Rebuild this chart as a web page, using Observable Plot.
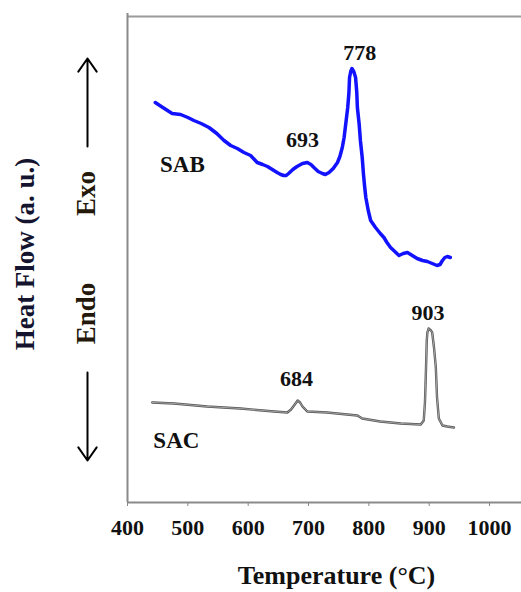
<!DOCTYPE html>
<html><head><meta charset="utf-8">
<script src="https://cdn.jsdelivr.net/npm/d3@7"></script>
<script src="https://cdn.jsdelivr.net/npm/@observablehq/plot@0.6"></script>
<style>html,body{margin:0;padding:0;background:#fff}</style>
</head><body><div id="chart"></div>
<script>
// SAB (blue) DTA trace: temperature (°C) and heat flow (a.u.)
const sabTemp = [446, 456, 474, 488, 500, 510, 522, 535, 548, 560, 571, 582, 593, 604, 615, 624, 632, 640, 648, 654, 659, 663, 667, 674, 681, 690, 698, 704, 709, 716, 723, 728, 734, 741, 748, 752, 756, 759, 761, 763, 765, 767, 768, 770, 772, 775, 778, 780, 781, 784, 786, 789, 791, 793, 795, 799, 803, 811, 819, 825, 830, 836, 843, 850, 857, 864, 872, 880, 889, 897, 905, 913, 918, 922, 926, 930, 935];
const sabFlow = [400, 396, 389, 388, 385, 382, 379, 375, 369, 362, 357, 354, 350, 347, 340, 338, 336, 333, 330, 328, 327, 327, 329, 333, 336, 339, 340, 338, 335, 331, 329, 328, 330, 334, 340, 346, 355, 365, 375, 385, 395, 410, 425, 431, 434, 431, 425, 410, 395, 378, 362, 345, 329, 316, 305, 292, 282, 275, 269, 265, 260, 255, 251, 247, 249, 250, 247, 244, 242, 241, 239, 237, 238, 242, 245, 246, 245];
// SAC (gray) DTA trace
const sacTemp = [441, 477, 532, 587, 643, 665, 671, 676, 682, 686, 690, 698, 731, 764, 781, 789, 819, 853, 886, 891, 893, 894, 895, 896, 897, 899, 901, 903, 905, 908, 911, 913, 916, 922, 930, 941];
const sacFlow = [100, 99, 96, 94, 91, 90, 93, 97, 102, 100, 96, 91, 90, 88, 87, 84, 81, 79, 78, 82, 100, 119, 140, 162, 170, 174, 173, 172, 170, 155, 135, 105, 84, 77, 76, 75];

const xTicks = [400, 500, 600, 700, 800, 900, 1000];

// peak annotations
const peakText = ["693", "778", "684", "903"];
const peakTemp = [690, 785, 680, 898];
const peakFlow = [363, 450, 124, 190];

// series names
const seriesText = ["SAB", "SAC"];
const seriesTemp = [491, 481];
const seriesFlow = [338, 62];

// Exo / Endo
const dirText = ["Exo", "Endo"];
const dirFlow = [309, 189];
const arrowFrom = [356, 130];
const arrowTo = [444, 42];

const sab = sabTemp.map((t, i) => ({t, f: sabFlow[i]}));
const sac = sacTemp.map((t, i) => ({t, f: sacFlow[i]}));
const peaks = peakText.map((s, i) => ({s, t: peakTemp[i], f: peakFlow[i]}));
const series = seriesText.map((s, i) => ({s, t: seriesTemp[i], f: seriesFlow[i]}));
const dirs = dirText.map((s, i) => ({s, f: dirFlow[i]}));
const arrows = arrowFrom.map((a, i) => ({y1: a, y2: arrowTo[i]}));

const chart = Plot.plot({
  width: 521, height: 592,
  marginLeft: 127, marginRight: 0, marginTop: 13, marginBottom: 90,
  x: {domain: [400, 1053]},
  y: {domain: [0, 489], axis: null},
  style: {fontFamily: "'Liberation Serif', 'Times New Roman', serif", fontWeight: "bold", background: "#fff"},
  marks: [
    Plot.ruleY([486], {stroke: "#9a9a9a", strokeWidth: 2}),
    Plot.ruleX([400], {stroke: "#8a8a8a", strokeWidth: 2}),
    Plot.ruleY([0], {stroke: "#8a8a8a", strokeWidth: 2}),
    Plot.axisX({ticks: xTicks, tickSize: 4, tickPadding: 13, fontSize: 22, stroke: "#888", fill: "#111", label: null, tickFormat: d => String(d)}),
    Plot.line(sac, {x: "t", y: "f", stroke: "#555", strokeWidth: 2.4}),
    Plot.line(sac, {x: "t", y: "f", stroke: "#c4c4c4", strokeWidth: 0.7}),
    Plot.line(sab, {x: "t", y: "f", stroke: "#1212ff", strokeWidth: 3.5, strokeLinejoin: "round"}),
    Plot.text(peaks, {x: "t", y: "f", text: "s", fontSize: 22, fill: "#111"}),
    Plot.text(series, {x: "t", y: "f", text: "s", fontSize: 23, fill: "#111"}),
    Plot.text(["Heat Flow (a. u.)"], {frameAnchor: "left", textAnchor: "middle", dx: -102, dy: -4, rotate: -90, fontSize: 27, fill: "#14142e"}),
    Plot.text(dirs, {y: "f", text: "s", frameAnchor: "left", textAnchor: "middle", dx: -41, rotate: -90, fontSize: 27, fill: "#24180a"}),
    Plot.arrow(arrows, {x1: () => 400, x2: () => 400, y1: "y1", y2: "y2", dx: -40, stroke: "#000", strokeWidth: 2, headLength: 12, headAngle: 70}),
    Plot.text(["Temperature (°C)"], {frameAnchor: "bottom", dx: 12, dy: 81, fontSize: 26, fill: "#111"})
  ]
});
document.getElementById("chart").appendChild(chart);
</script>
</body></html>
